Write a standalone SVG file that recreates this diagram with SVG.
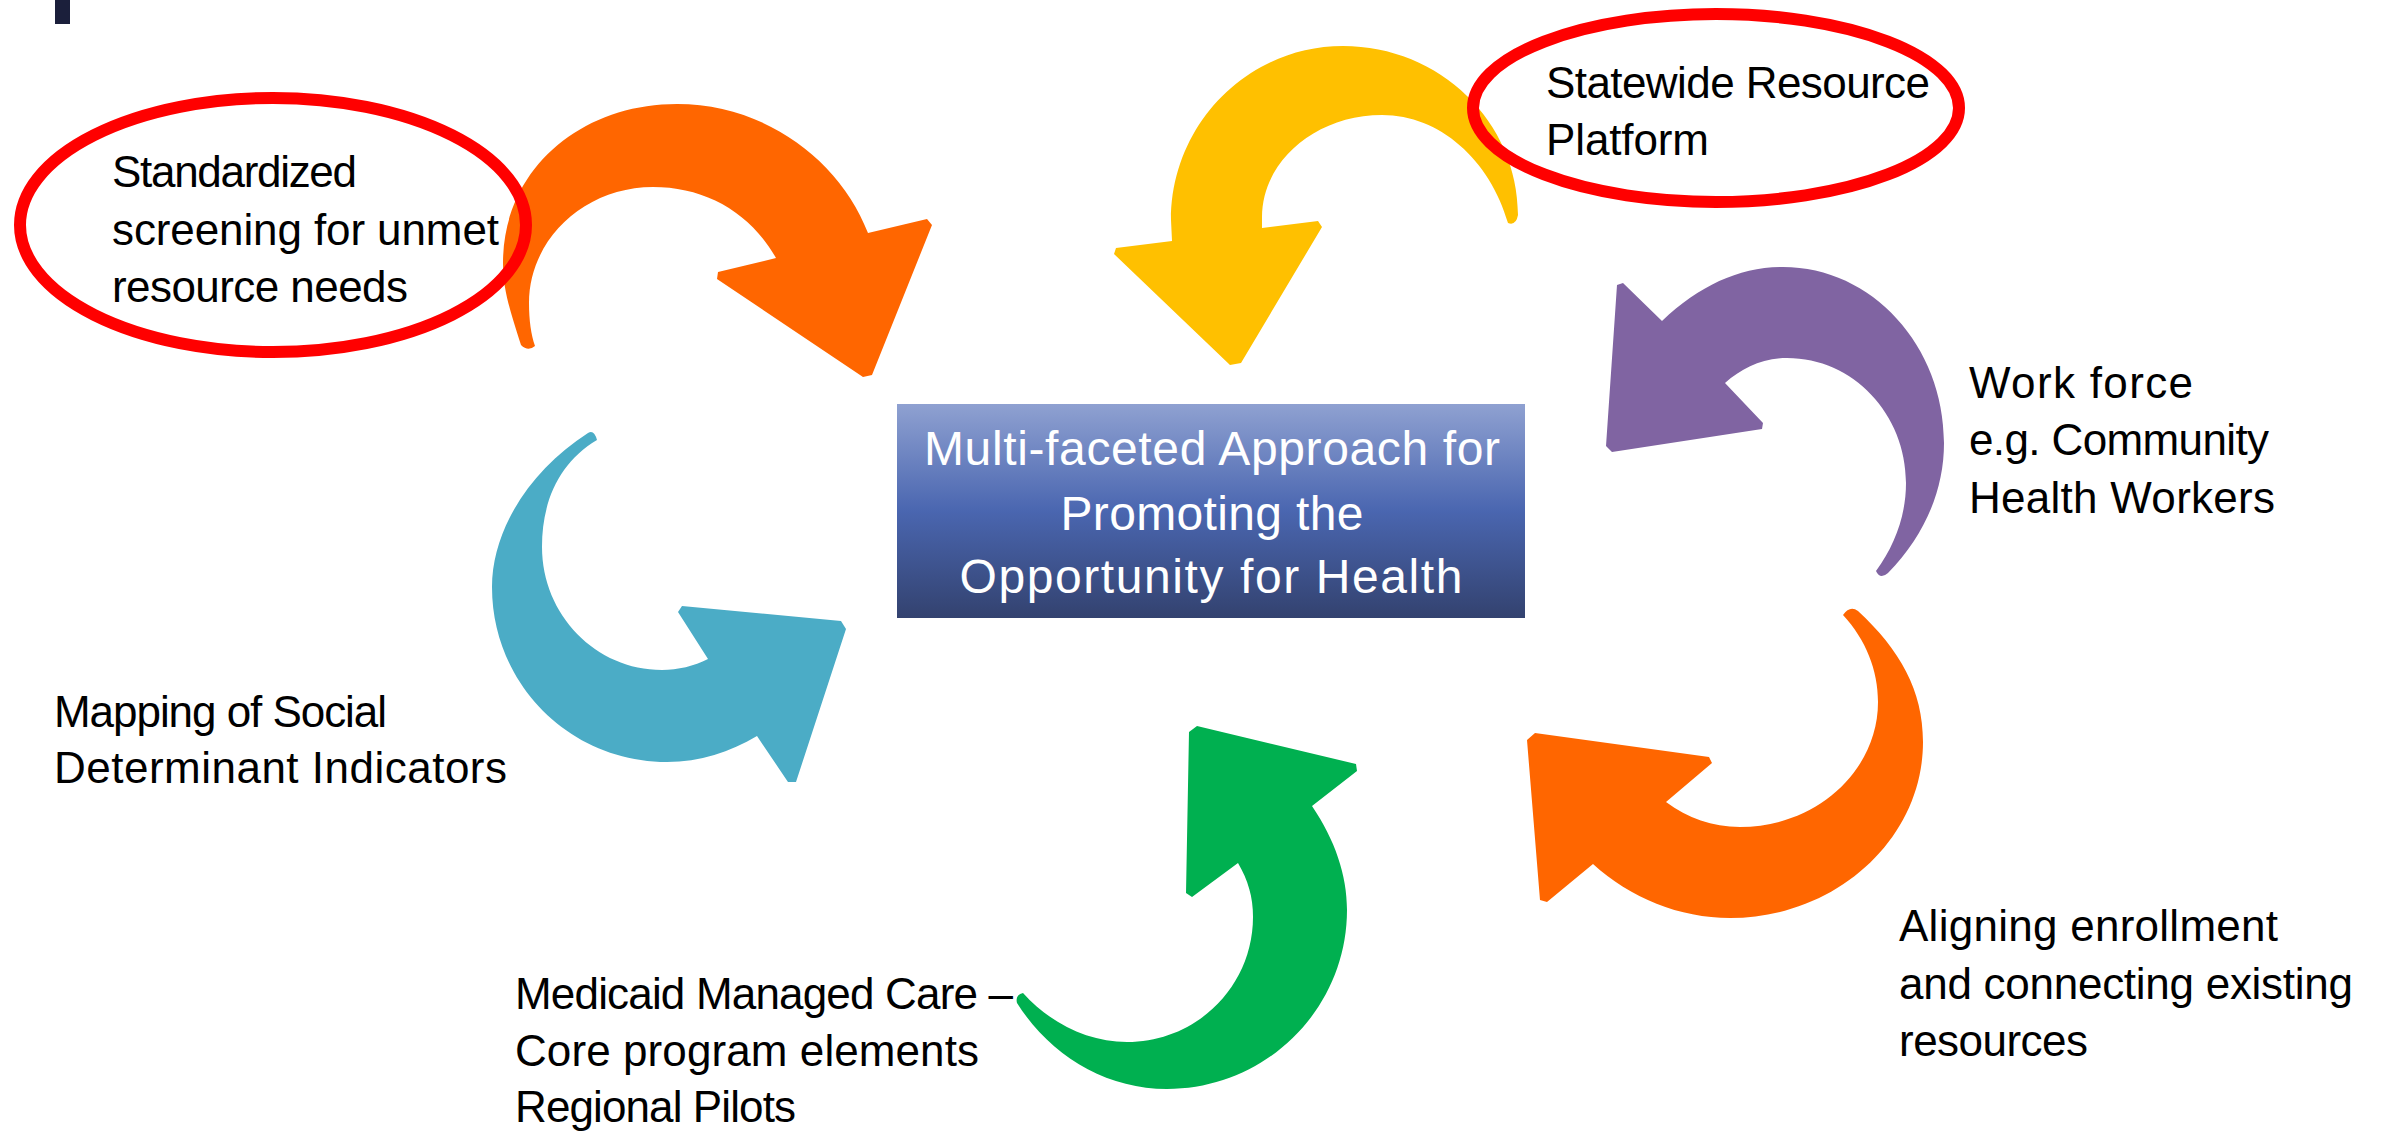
<svg xmlns="http://www.w3.org/2000/svg" width="2382" height="1135" viewBox="0 0 2382 1135">
<defs>
<linearGradient id="boxGrad" x1="0" y1="0" x2="0" y2="1">
<stop offset="0" stop-color="#8FA1D1"/>
<stop offset="0.5" stop-color="#4A66B0"/>
<stop offset="1" stop-color="#33426F"/>
</linearGradient>
<style>
.lbl{font-family:"Liberation Sans",Arial,sans-serif;font-size:44px;fill:#000}
.ctr{font-family:"Liberation Sans",Arial,sans-serif;font-size:48px;fill:#fff;text-anchor:middle}
.ring{fill:none;stroke:#FF0000;stroke-width:12}
</style>
</defs>
<rect width="2382" height="1135" fill="#fff"/>
<rect x="55" y="0" width="15" height="24" fill="#1B1F3B"/>

<g id="connectors">
<path id="arrow-orange-top" fill="#FF6600" d="M 535,346 Q 528,352 521,345 C 510,310 503,290 503,263 C 503,170 580,104 677,104 C 765,104 840,160 868,233 L 927,219 L 932,225 L 872,375 L 863,377 L 717,279 L 718,272 L 776,258 C 750,212 705,187 653,187 C 585,187 529,239 529,303 C 529,320 531,335 535,346 Z"/>
<path id="arrow-yellow" fill="#FFC000" d="M 1508,223 C 1490,160 1440,115 1382,115 C 1316,115 1262,161 1262,217 L 1262,228 L 1318,221 L 1322,227 L 1241,363 L 1230,365 L 1114,254 L 1116,248 L 1172,241 L 1171,220 C 1171,124 1248,46 1343,46 C 1440,46 1518,122 1518,215 Q 1516,226 1508,223 Z"/>
<path id="arrow-purple" fill="#8064A2" d="M 1662,321 C 1700,285 1740,267 1783,267 C 1872,267 1944,346 1944,443 C 1944,490 1925,535 1888,573 Q 1880,580 1876,571 C 1895,545 1906,515 1906,483 C 1906,414 1853,358 1787,358 C 1762,358 1742,368 1725,383 L 1763,423 L 1762,429 L 1612,452 L 1606,446 L 1617,285 L 1623,283 Z"/>
<path id="arrow-orange-bottom" fill="#FF6600" d="M 1843,615 C 1866,640 1878,670 1878,702 C 1878,771 1816,827 1740,827 C 1712,827 1688,818 1666,802 L 1712,763 L 1709,757 L 1535,733 L 1527,740 L 1540,900 L 1547,902 L 1593,864 C 1630,898 1680,918 1730,918 C 1836,918 1923,839 1923,742 C 1923,690 1900,650 1858,611 Q 1850,605 1843,615 Z"/>
<path id="arrow-green" fill="#00B050" d="M 1023,993 C 1050,1023 1088,1042 1127,1042 C 1197,1042 1253,986 1253,917 C 1253,897 1248,880 1238,863 L 1192,897 L 1186,893 L 1189,732 L 1197,726 L 1356,764 L 1357,771 L 1312,806 C 1335,840 1347,875 1347,910 C 1347,1009 1266,1089 1167,1089 C 1105,1089 1050,1055 1017,1003 Q 1015,995 1023,993 Z"/>
<path id="arrow-teal" fill="#4BACC6" d="M 757,736 L 788,782 L 796,782 L 846,629 L 841,621 L 682,606 L 678,612 L 708,659 C 694,666 678,670 662,670 C 596,670 542,615 542,547 C 542,500 560,462 597,440 Q 594,429 588,433 C 530,470 492,530 492,587 C 492,684 570,762 667,762 C 700,762 730,752 757,736 Z"/>
</g>

<g id="center-box">
<rect x="897" y="404" width="628" height="214" fill="url(#boxGrad)"/>
<text class="ctr" x="1212" y="465" textLength="576" lengthAdjust="spacing">Multi-faceted Approach for</text>
<text class="ctr" x="1212" y="530" textLength="303" lengthAdjust="spacing">Promoting the</text>
<text class="ctr" x="1211" y="593" textLength="503" lengthAdjust="spacing">Opportunity for Health</text>
</g>

<g id="node-screening">
<ellipse class="ring" cx="273" cy="225" rx="253" ry="127"/>
<text class="lbl" x="112" y="187" textLength="245" lengthAdjust="spacing">Standardized</text>
<text class="lbl" x="112" y="245" textLength="387" lengthAdjust="spacing">screening for unmet</text>
<text class="lbl" x="112" y="302" textLength="296" lengthAdjust="spacing">resource needs</text>
</g>

<g id="node-platform">
<ellipse class="ring" cx="1716" cy="108" rx="243" ry="94"/>
<text class="lbl" x="1546" y="98" textLength="384" lengthAdjust="spacing">Statewide Resource</text>
<text class="lbl" x="1546" y="155" textLength="163" lengthAdjust="spacing">Platform</text>
</g>

<g id="node-workforce">
<text class="lbl" x="1969" y="398" textLength="224" lengthAdjust="spacing">Work force</text>
<text class="lbl" x="1969" y="455" textLength="300" lengthAdjust="spacing">e.g. Community</text>
<text class="lbl" x="1969" y="513" textLength="306" lengthAdjust="spacing">Health Workers</text>
</g>

<g id="node-aligning">
<text class="lbl" x="1899" y="941" textLength="379" lengthAdjust="spacing">Aligning enrollment</text>
<text class="lbl" x="1899" y="999" textLength="454" lengthAdjust="spacing">and connecting existing</text>
<text class="lbl" x="1899" y="1056" textLength="189" lengthAdjust="spacing">resources</text>
</g>

<g id="node-medicaid">
<text class="lbl" x="515" y="1009" textLength="498" lengthAdjust="spacing">Medicaid Managed Care –</text>
<text class="lbl" x="515" y="1066" textLength="464" lengthAdjust="spacing">Core program elements</text>
<text class="lbl" x="515" y="1122" textLength="281" lengthAdjust="spacing">Regional Pilots</text>
</g>

<g id="node-mapping">
<text class="lbl" x="54" y="727" textLength="333" lengthAdjust="spacing">Mapping of Social</text>
<text class="lbl" x="54" y="783" textLength="453" lengthAdjust="spacing">Determinant Indicators</text>
</g>
</svg>
